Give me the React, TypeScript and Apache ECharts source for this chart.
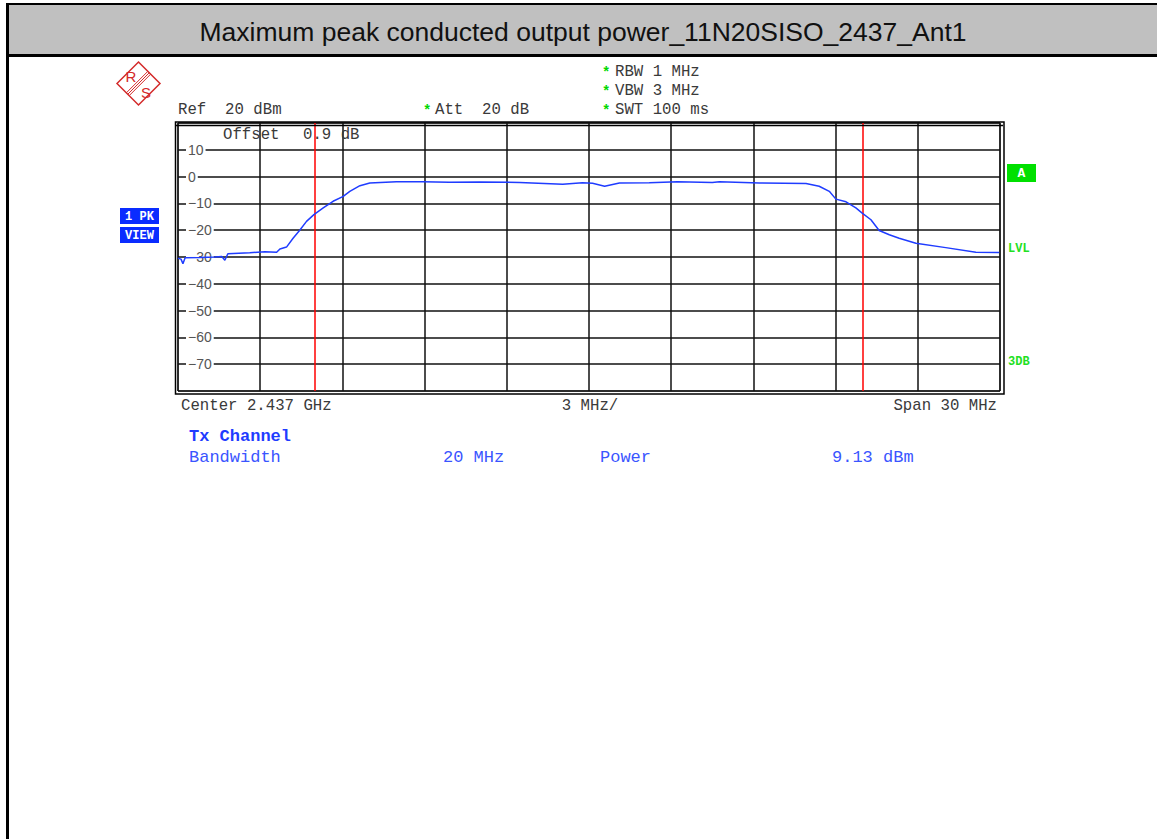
import React, { useEffect, useRef } from "react";
import * as echarts from "echarts";

// Frequency offset from start of span (MHz), span 2.422 .. 2.452 GHz
const freqOffsetMHz = [
  0.0, 0.11, 0.18, 0.26, 0.8, 1.35, 1.6, 1.71, 1.82, 2.62, 3.17, 3.6, 3.72, 3.96, 4.2, 4.45, 4.69, 4.96,
  5.3, 5.66, 6.03, 6.27, 6.64, 7.0, 7.97, 8.93, 9.9, 11.0, 12.47, 14.04, 14.76, 15.13, 15.57, 16.11,
  17.2, 18.23, 19.5, 19.76, 21.22, 22.92, 23.4, 23.77, 24.01, 24.38, 24.74, 24.97, 25.29, 25.59, 25.96,
  26.32, 26.93, 28.02, 29.12, 29.97,
];
const levelDbm = [
  -30.5, -30.8, -32.5, -30.3, -30.2, -30.0, -29.8, -31.2, -28.8, -28.4, -28.0, -28.2, -27.0, -26.3, -23.0,
  -19.9, -16.7, -14.2, -11.7, -9.2, -7.4, -5.5, -3.4, -2.4, -1.9, -1.9, -2.1, -2.0, -2.2, -2.9, -2.3, -2.5,
  -3.6, -2.4, -2.3, -1.9, -2.2, -1.9, -2.4, -2.6, -3.6, -5.5, -8.4, -9.4, -11.7, -13.6, -16.1, -20.1,
  -21.7, -23.0, -24.9, -26.5, -28.2, -28.3,
];
const spanMHz = 30;
const divMHz = 3;
const centerOffsetMHz = 15;
const channelBandwidthMHz = 20;
const yMin = -80;
const yMax = 20;
const yStep = 10;

const titleText = "Maximum peak conducted output power_11N20SISO_2437_Ant1";

export default function App() {
  const ref = useRef<HTMLDivElement>(null);
  useEffect(() => {
    if (!ref.current) return;
    const chart = echarts.init(ref.current, null, { renderer: "svg" });
    const mono = "Liberation Mono, Courier New, monospace";
    const gray = "#3a3a3a";
    const green = "#00d800";
    const blue = "#1f3cff";
    const red = "#d42a2a";
    const txt = (x: number, y: number, text: string, opts: any = {}) => ({
      type: "text",
      x,
      y,
      silent: true,
      style: {
        text,
        fill: opts.fill || gray,
        font: opts.font || `15.7px ${mono}`,
        textAlign: opts.align || "left",
        textVerticalAlign: "middle",
      },
      z: 10,
    });
    const star = (x: number, y: number) =>
      txt(x, y + 1, "*", { fill: green, font: `bold 14px ${mono}` });

    const cx = 138.5,
      cy = 83.5,
      h = 21.5;
    const stripes = [-2, 0, 2].map((o) => ({
      type: "line",
      silent: true,
      shape: {
        x1: cx - h / 2 + o * 0.707,
        y1: cy + h / 2 + o * 0.707,
        x2: cx + h / 2 + o * 0.707,
        y2: cy - h / 2 + o * 0.707,
      },
      style: { stroke: red, lineWidth: 1 },
      z: 10,
    }));

    const data = freqOffsetMHz.map((f, i) => [f, levelDbm[i]]);
    chart.setOption({
      animation: false,
      backgroundColor: "#ffffff",
      grid: {
        left: 178,
        top: 123,
        width: 822,
        height: 268,
        show: true,
        borderColor: "#000",
        borderWidth: 1,
        backgroundColor: "transparent",
      },
      xAxis: {
        type: "value",
        min: 0,
        max: spanMHz,
        interval: divMHz,
        axisLine: { show: false },
        axisTick: { show: false },
        axisLabel: { show: false },
        splitLine: { show: true, lineStyle: { color: "#111", width: 1.5 } },
      },
      yAxis: {
        type: "value",
        min: yMin,
        max: yMax,
        interval: yStep,
        axisLine: { show: false },
        axisTick: { show: false },
        axisLabel: {
          inside: true,
          margin: 8,
          align: "left",
          showMinLabel: false,
          showMaxLabel: false,
          color: "#555",
          fontFamily: "Liberation Sans, Arial, sans-serif",
          fontSize: 14,
          backgroundColor: "#fff",
          padding: [0, 2],
          formatter: (v: number) => (v < 0 ? "\u2212" + Math.abs(v) : String(v)),
        },
        splitLine: { show: true, lineStyle: { color: "#111", width: 1.5 } },
      },
      series: [
        {
          type: "line",
          data,
          symbol: "none",
          lineStyle: { color: "#1f3cff", width: 1.5 },
          z: 5,
          markLine: {
            silent: true,
            symbol: "none",
            label: { show: false },
            emphasis: { disabled: true },
            lineStyle: { color: "#ff0000", type: "solid", width: 1.5, opacity: 1 },
            data: [
              { xAxis: centerOffsetMHz - channelBandwidthMHz / 2 },
              { xAxis: centerOffsetMHz + channelBandwidthMHz / 2 },
            ],
          },
        },
      ],
      graphic: [
        // page frame and title bar
        { type: "rect", silent: true, shape: { x: 9, y: 5, width: 1148, height: 49 }, style: { fill: "#c0c0c0" } },
        { type: "rect", silent: true, shape: { x: 6, y: 3, width: 1151, height: 2 }, style: { fill: "#000" } },
        { type: "rect", silent: true, shape: { x: 6, y: 54, width: 1151, height: 3 }, style: { fill: "#000" } },
        { type: "rect", silent: true, shape: { x: 6, y: 3, width: 3, height: 836 }, style: { fill: "#000" } },
        txt(583, 32, titleText, { fill: "#111", font: "26.5px Liberation Sans, Arial, sans-serif", align: "center" }),
        // outer plot frame
        {
          type: "rect",
          silent: true,
          shape: { x: 175.5, y: 122, width: 828.5, height: 272 },
          style: { fill: "none", stroke: "#000", lineWidth: 1.5 },
          z: 10,
        },
        { type: "line", silent: true, shape: { x1: 176, y1: 125.5, x2: 1003, y2: 125.5 }, style: { stroke: "#000", lineWidth: 1.5 }, z: 10 },
        // R&S logo
        {
          type: "polygon",
          silent: true,
          shape: { points: [[cx, cy - h], [cx + h, cy], [cx, cy + h], [cx - h, cy]] },
          style: { fill: "#fff", stroke: red, lineWidth: 1.5 },
          z: 10,
        },
        ...stripes,
        txt(131, 76, "R", { fill: red, font: "15px Liberation Sans, Arial, sans-serif", align: "center" }),
        txt(146, 92, "S", { fill: red, font: "15px Liberation Sans, Arial, sans-serif", align: "center" }),
        // header texts
        txt(178, 110, "Ref  20 dBm"),
        star(423, 110),
        txt(435, 110, "Att  20 dB"),
        star(602, 72),
        txt(615, 72, "RBW 1 MHz"),
        star(602, 91),
        txt(615, 91, "VBW 3 MHz"),
        star(602, 110),
        txt(615, 110, "SWT 100 ms"),
        txt(223, 135, "Offset"),
        txt(303, 135, "0.9 dB"),
        // left badges
        { type: "rect", silent: true, shape: { x: 120, y: 208, width: 39, height: 16 }, style: { fill: "#0a2cff" }, z: 10 },
        txt(139.5, 216.5, "1 PK", { fill: "#fff", font: `bold 12px ${mono}`, align: "center" }),
        { type: "rect", silent: true, shape: { x: 120, y: 227, width: 39, height: 16 }, style: { fill: "#0a2cff" }, z: 10 },
        txt(139.5, 235.5, "VIEW", { fill: "#fff", font: `bold 12px ${mono}`, align: "center" }),
        // right markers
        { type: "rect", silent: true, shape: { x: 1007, y: 164, width: 29, height: 18 }, style: { fill: "#00e000" }, z: 10 },
        txt(1021.5, 173.5, "A", { fill: "#fff", font: `bold 13px ${mono}`, align: "center" }),
        txt(1008, 249, "LVL", { fill: "#22e022", font: `bold 12px ${mono}` }),
        txt(1008, 362, "3DB", { fill: "#22e022", font: `bold 12px ${mono}` }),
        // bottom texts
        txt(181, 406, "Center 2.437 GHz"),
        txt(590, 406, "3 MHz/", { align: "center" }),
        txt(997, 406, "Span 30 MHz", { align: "right" }),
        txt(189, 436, "Tx Channel", { fill: blue, font: `bold 17px ${mono}` }),
        txt(189, 457, "Bandwidth", { fill: "#3a55ff", font: `17px ${mono}` }),
        txt(443, 457, "20 MHz", { fill: "#3a55ff", font: `17px ${mono}` }),
        txt(600, 457, "Power", { fill: "#3a55ff", font: `17px ${mono}` }),
        txt(832, 457, "9.13 dBm", { fill: "#3a55ff", font: `17px ${mono}` }),
      ],
    });
    return () => chart.dispose();
  }, []);
  return (
    <div
      ref={ref}
      style={{ position: "absolute", left: 0, top: 0, width: 1157, height: 839 }}
    />
  );
}
